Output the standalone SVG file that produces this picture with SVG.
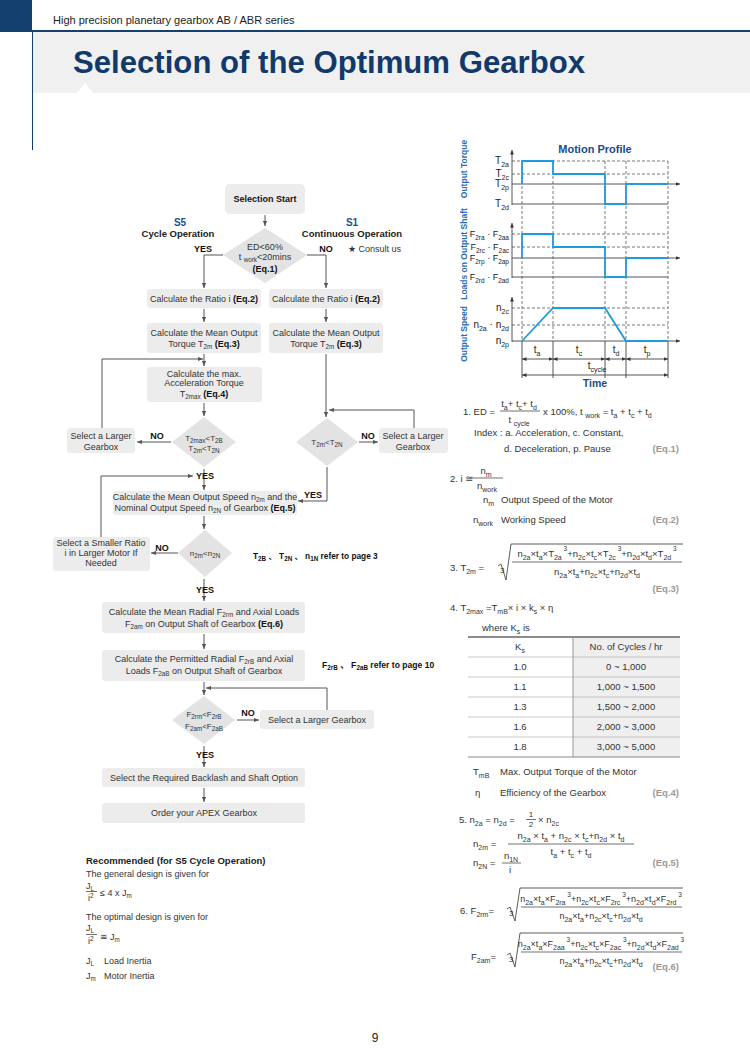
<svg xmlns="http://www.w3.org/2000/svg" width="750" height="1048" viewBox="0 0 750 1048">
<defs>
<style>
text{font-family:"Liberation Sans",Arial,"DejaVu Sans","Noto Sans CJK JP",sans-serif;fill:#333}
.f{font-size:9px}
.f8{font-size:8px}
.ctr{text-anchor:middle}
.b{font-weight:bold;fill:#111}
.bl{fill:#1f4f96}
.box{fill:#ececec}
.dia{fill:#e3e3e3}
.c{stroke:#555;stroke-width:1;fill:none;marker-end:url(#a)}
.s{font-size:6.3px;baseline-shift:-2px}
.p{font-size:6.5px;baseline-shift:6px}
#equations .s,#motion-profile .s{font-size:7px;baseline-shift:-2.5px}
#equations .e9 .p{baseline-shift:5px}
.e{font-size:9.5px}
.e8{font-size:9.5px}
.e9{font-size:9px}
.ix{font-size:8px}
.eq{font-size:9.5px;font-weight:bold;fill:#9a9a9a;text-anchor:end}
.ax{font-size:10px;fill:#222;text-anchor:end}
.axf{font-size:9px;fill:#222;text-anchor:end}
#motion-profile .axf .s{font-size:6.5px}
.dash{stroke:#555;stroke-width:0.8;stroke-dasharray:3 2;fill:none}
.sol{stroke:#444;stroke-width:0.9;fill:none}
.sig{stroke:#1f9be0;stroke-width:1.8;fill:none}
.vl{font-size:8.5px;font-weight:bold;fill:#2a6cb4;text-anchor:middle}
.fr{stroke:#333;stroke-width:0.7}
.rad{stroke:#333;stroke-width:0.8;fill:none}
.tb{fill:#222}
</style>
<marker id="a" viewBox="0 0 6 6" refX="6" refY="3" markerWidth="5" markerHeight="5" orient="auto"><path d="M0,0.5 L6,3 L0,5.5z" fill="#555"/></marker>
<marker id="m" viewBox="0 0 6 6" refX="6" refY="3" markerWidth="5" markerHeight="5" orient="auto-start-reverse"><path d="M0,0.5 L6,3 L0,5.5z" fill="#333"/></marker>
</defs>

<g id="header">
<rect x="0" y="0" width="32" height="32" fill="#14406f"/>
<rect x="32" y="32" width="718" height="61" fill="#f0f0f0"/>
<line x1="32" y1="31" x2="750" y2="31" stroke="#14406f" stroke-width="2"/>
<line x1="32.5" y1="31" x2="32.5" y2="150" stroke="#14406f" stroke-width="1"/>
<polygon points="77,93 85,83 93,93" fill="#fff"/>
<text x="53" y="24" style="font-size:11px;fill:#222">High precision planetary gearbox AB / ABR series</text>
<text x="73" y="73" textLength="512" lengthAdjust="spacingAndGlyphs" style="font-size:31px;font-weight:bold;fill:#12396b">Selection of the Optimum Gearbox</text>
</g>

<g id="connectors">
<path class="c" d="M265,215 V226"/>
<path class="c" d="M223,255 H204 V288"/>
<path class="c" d="M307,255 H326 V288"/>
<path class="c" d="M204,309 V322"/>
<path class="c" d="M326,309 V322"/>
<path class="c" d="M204,354 V366"/>
<path class="c" d="M326,354 V417"/>
<path class="c" d="M102,428 V359 H203"/>
<path class="c" d="M204,403 V416"/>
<path class="c" d="M171,442 H137"/>
<path class="c" d="M359,442 H378"/>
<path class="c" d="M414,428 V410 H329"/>
<path class="c" d="M327,467 V501 H298"/>
<path class="c" d="M101,537 V476 H193"/>
<path class="c" d="M204,469 V490"/>
<path class="c" d="M204,516 V529"/>
<path class="c" d="M178,553 H151"/>
<path class="c" d="M204,579 V601"/>
<path class="c" d="M204,634 V649"/>
<path class="c" d="M204,682 V695"/>
<path class="c" d="M327,710 V688 H206"/>
<path class="c" d="M237,720 H259"/>
<path class="c" d="M204,746 V767"/>
<path class="c" d="M204,788 V802"/>
</g>

<g id="n-start"><rect class="box" x="225" y="184" width="80" height="30" rx="5"/><text class="f ctr b" x="265" y="202">Selection Start</text></g>
<g id="lbl-s5"><text class="ctr b bl" x="180" y="226" style="font-size:10px">S5</text><text class="ctr b" x="178" y="237" style="font-size:9.5px;fill:#222">Cycle Operation</text></g>
<g id="lbl-s1"><text class="ctr b bl" x="352" y="226" style="font-size:10px">S1</text><text class="ctr b" x="352" y="237" style="font-size:9.5px;fill:#222">Continuous Operation</text></g>
<g id="d-ed"><polygon class="dia" points="265,228 307,255 265,283 223,255"/>
<text class="f ctr" x="265" y="250">ED&lt;60%</text>
<text class="f ctr" x="265" y="260">t <tspan class="s">work</tspan>&lt;20mins</text>
<text class="f ctr b" x="265" y="272">(Eq.1)</text></g>
<g id="lbl-ed"><text class="f ctr b" x="203" y="252">YES</text><text class="f ctr b" x="326" y="252">NO</text><text class="f" x="348" y="252">★ Consult us</text></g>

<g id="n-ratio-l"><rect class="box" x="147" y="289" width="114" height="19" rx="3"/><text class="f ctr" x="204" y="302">Calculate the Ratio i <tspan class="b">(Eq.2)</tspan></text></g>
<g id="n-ratio-r"><rect class="box" x="269" y="289" width="114" height="19" rx="3"/><text class="f ctr" x="326" y="302">Calculate the Ratio i <tspan class="b">(Eq.2)</tspan></text></g>
<g id="n-mean-l"><rect class="box" x="147" y="323" width="114" height="30" rx="3"/><text class="f ctr" x="204" y="336">Calculate the Mean Output</text><text class="f ctr" x="204" y="347">Torque T<tspan class="s">2m</tspan> <tspan class="b">(Eq.3)</tspan></text></g>
<g id="n-mean-r"><rect class="box" x="269" y="323" width="114" height="30" rx="3"/><text class="f ctr" x="326" y="336">Calculate the Mean Output</text><text class="f ctr" x="326" y="347">Torque T<tspan class="s">2m</tspan> <tspan class="b">(Eq.3)</tspan></text></g>
<g id="n-accel"><rect class="box" x="147" y="367" width="115" height="35" rx="3"/><text class="f ctr" x="204" y="377">Calculate the max.</text><text class="f ctr" x="204" y="386">Acceleration Torque</text><text class="f ctr" x="204" y="397">T<tspan class="s">2max</tspan> <tspan class="b">(Eq.4)</tspan></text></g>

<g id="d-t2max"><polygon class="dia" points="204,417 236,442 204,467 172,442"/><text class="f8 ctr" x="204" y="441">T<tspan class="s">2max</tspan>&lt;T<tspan class="s">2B</tspan></text><text class="f8 ctr" x="204" y="451">T<tspan class="s">2m</tspan>&lt;T<tspan class="s">2N</tspan></text></g>
<g id="lbl-t2max"><text class="f ctr b" x="157" y="439">NO</text><text class="f ctr b" x="205" y="479">YES</text></g>
<g id="n-larger-l"><rect class="box" x="67" y="428" width="68" height="25" rx="3"/><text class="f ctr" x="101" y="439">Select a Larger</text><text class="f ctr" x="101" y="450">Gearbox</text></g>

<g id="d-t2m"><polygon class="dia" points="327,418 358,442 327,466 296,442"/><text class="f8 ctr" x="327" y="445">T<tspan class="s">2m</tspan>&lt;T<tspan class="s">2N</tspan></text></g>
<g id="lbl-t2m"><text class="f ctr b" x="368" y="439">NO</text><text class="f ctr b" x="313" y="498">YES</text></g>
<g id="n-larger-r"><rect class="box" x="379" y="428" width="69" height="25" rx="3"/><text class="f ctr" x="413" y="439">Select a Larger</text><text class="f ctr" x="413" y="450">Gearbox</text></g>

<g id="n-speed"><rect class="box" x="113" y="491" width="184" height="24" rx="3"/><text class="f ctr" x="205" y="500">Calculate the Mean Output Speed n<tspan class="s">2m</tspan> and the</text><text class="f ctr" x="205" y="511">Nominal Output Speed n<tspan class="s">2N</tspan> of Gearbox <tspan class="b">(Eq.5)</tspan></text></g>

<g id="d-n2m"><polygon class="dia" points="205,530 232,553 205,577 178,553"/><text class="f8 ctr" x="205" y="556">n<tspan class="s">2m</tspan>&lt;n<tspan class="s">2N</tspan></text></g>
<g id="lbl-n2m"><text class="f ctr b" x="162" y="551">NO</text><text class="f ctr b" x="205" y="593">YES</text></g>
<g id="n-smaller"><rect class="box" x="53" y="537" width="97" height="34" rx="3"/><text class="f ctr" x="101" y="546">Select a Smaller Ratio</text><text class="f ctr" x="101" y="556">i in Larger Motor If</text><text class="f ctr" x="101" y="566">Needed</text></g>
<g id="note-page3"><text class="b" x="253" y="559" style="font-size:8.3px">T<tspan class="s">2B</tspan> 、 T<tspan class="s">2N</tspan> 、 n<tspan class="s">1N</tspan> refer to page 3</text></g>

<g id="n-radial"><rect class="box" x="102" y="602" width="203" height="31" rx="3"/><text class="f ctr" x="204" y="615">Calculate the Mean Radial F<tspan class="s">2rm</tspan> and Axial Loads</text><text class="f ctr" x="204" y="627">F<tspan class="s">2am</tspan> on Output Shaft of Gearbox <tspan class="b">(Eq.6)</tspan></text></g>
<g id="n-permitted"><rect class="box" x="102" y="650" width="203" height="31" rx="3"/><text class="f ctr" x="204" y="662">Calculate the Permitted Radial F<tspan class="s">2rB</tspan> and Axial</text><text class="f ctr" x="204" y="674">Loads F<tspan class="s">2aB</tspan> on Output Shaft of Gearbox</text></g>
<g id="note-page10"><text class="b" x="322" y="668" style="font-size:8.6px">F<tspan class="s">2rB</tspan> 、 F<tspan class="s">2aB</tspan> refer to page 10</text></g>

<g id="d-f2rm"><polygon class="dia" points="204,696 235,720 204,744 172,720"/><text class="f8 ctr" x="204" y="717">F<tspan class="s">2rm</tspan>&lt;F<tspan class="s">2rB</tspan></text><text class="f8 ctr" x="204" y="729">F<tspan class="s">2am</tspan>&lt;F<tspan class="s">2aB</tspan></text></g>
<g id="lbl-f2rm"><text class="f ctr b" x="248" y="716">NO</text><text class="f ctr b" x="205" y="758">YES</text></g>
<g id="n-larger-f"><rect class="box" x="260" y="710" width="114" height="19" rx="3"/><text class="f ctr" x="317" y="723">Select a Larger Gearbox</text></g>
<g id="n-backlash"><rect class="box" x="102" y="768" width="203" height="19" rx="3"/><text class="f ctr" x="204" y="781">Select the Required Backlash and Shaft Option</text></g>
<g id="n-order"><rect class="box" x="102" y="803" width="203" height="20" rx="3"/><text class="f ctr" x="204" y="816">Order your APEX Gearbox</text></g>

<g id="recommended">
<text class="b" x="86" y="864" style="font-size:9.5px;fill:#222">Recommended (for S5 Cycle Operation)</text>
<text class="f" x="86" y="877">The general design is given for</text>
<text class="f" x="86" y="889">J<tspan class="s">L</tspan></text>
<line class="fr" x1="86" y1="891.5" x2="97" y2="891.5"/>
<text class="f" x="88" y="901">i<tspan class="p" style="baseline-shift:3px">2</tspan></text>
<text class="f" x="100" y="896">≤ 4 x J<tspan class="s">m</tspan></text>
<text class="f" x="86" y="920">The optimal design is given for</text>
<text class="f" x="86" y="931">J<tspan class="s">L</tspan></text>
<line class="fr" x1="86" y1="934.5" x2="97" y2="934.5"/>
<text class="f" x="88" y="944">i<tspan class="p" style="baseline-shift:3px">2</tspan></text>
<text class="f" x="100" y="940">≅ J<tspan class="s">m</tspan></text>
<text class="f" x="86" y="964">J<tspan class="s">L</tspan></text><text class="f" x="104" y="964">Load Inertia</text>
<text class="f" x="86" y="979">J<tspan class="s">m</tspan></text><text class="f" x="104" y="979">Motor Inertia</text>
</g>

<g id="motion-profile">
<text class="ctr b" x="595" y="153" style="font-size:11px;fill:#1b4b8a">Motion Profile</text>
<text class="vl" transform="translate(467,169) rotate(-90)">Output Torque</text>
<text class="vl" transform="translate(467,254) rotate(-90)">Loads on Output Shaft</text>
<text class="vl" transform="translate(467,334) rotate(-90)">Output Speed</text>
<path class="dash" d="M512,161 H668 M512,174 H668 M512,234 H668 M512,247 H668 M512,308 H668 M512,325 H668"/>
<path class="dash" d="M522,161 V341 M553,161 V341 M605,161 V341 M626,161 V341 M668,161 V341"/>
<path class="sol" d="M522,341 V378 M553,341 V378 M605,341 V378 M626,341 V378 M668,341 V378"/>
<path class="sol" d="M512,204 H668 M512,277 H668"/>
<path class="sol" d="M512,205 V150" marker-end="url(#m)"/>
<path class="sol" d="M512,278 V223" marker-end="url(#m)"/>
<path class="sol" d="M512,342 V297" marker-end="url(#m)"/>
<path class="sol" d="M512,184 H680" marker-end="url(#m)"/>
<path class="sol" d="M512,258 H680" marker-end="url(#m)"/>
<path class="sol" d="M512,341 H680" marker-end="url(#m)"/>
<path class="sig" d="M522,184 V161 H553 V174 H605 V204 H626 V184 H668"/>
<path class="sig" d="M522,258 V234 H553 V247 H605 V277 H626 V258 H668"/>
<path class="sig" d="M522,341 L553,308 H605 L626,341 H668"/>
<text class="ax" x="509" y="164">T<tspan class="s">2a</tspan></text>
<text class="ax" x="509" y="177">T<tspan class="s">2c</tspan></text>
<text class="ax" x="509" y="187">T<tspan class="s">2p</tspan></text>
<text class="ax" x="509" y="207">T<tspan class="s">2d</tspan></text>
<text class="axf" x="509" y="237">F<tspan class="s">2ra</tspan> · F<tspan class="s">2aa</tspan></text>
<text class="axf" x="509" y="250">F<tspan class="s">2rc</tspan> · F<tspan class="s">2ac</tspan></text>
<text class="axf" x="509" y="261">F<tspan class="s">2rp</tspan> · F<tspan class="s">2ap</tspan></text>
<text class="axf" x="509" y="280">F<tspan class="s">2rd</tspan> · F<tspan class="s">2ad</tspan></text>
<text class="ax" x="509" y="311">n<tspan class="s">2c</tspan></text>
<text class="ax" x="509" y="328">n<tspan class="s">2a</tspan> · n<tspan class="s">2d</tspan></text>
<text class="ax" x="509" y="344">n<tspan class="s">2p</tspan></text>
<path class="sol" d="M522,359 H553" marker-start="url(#m)" marker-end="url(#m)"/>
<path class="sol" d="M553,359 H605" marker-start="url(#m)" marker-end="url(#m)"/>
<path class="sol" d="M605,359 H626" marker-start="url(#m)" marker-end="url(#m)"/>
<path class="sol" d="M626,359 H668" marker-start="url(#m)" marker-end="url(#m)"/>
<path class="sol" d="M522,375 H668" marker-start="url(#m)" marker-end="url(#m)"/>
<text class="ax tb" x="537" y="353" style="text-anchor:middle">t<tspan class="s">a</tspan></text>
<text class="ax tb" x="579" y="353" style="text-anchor:middle">t<tspan class="s">c</tspan></text>
<text class="ax tb" x="616" y="353" style="text-anchor:middle">t<tspan class="s">d</tspan></text>
<text class="ax tb" x="647" y="353" style="text-anchor:middle">t<tspan class="s">p</tspan></text>
<text class="ax tb" x="597" y="369" style="text-anchor:middle">t<tspan class="s">cycle</tspan></text>
<text class="ctr b" x="595" y="387" style="font-size:10.5px;fill:#1b4b8a">Time</text>
</g>

<g id="equations">
<text class="e" x="463" y="415">1. ED =</text>
<text class="e ctr" x="519" y="407">t<tspan class="s">a</tspan>+ t<tspan class="s">c</tspan>+ t<tspan class="s">d</tspan></text>
<line class="fr" x1="500" y1="411" x2="540" y2="411"/>
<text class="e ctr" x="519" y="423">t <tspan class="s">cycle</tspan></text>
<text class="e" x="543" y="415">x 100%, t <tspan class="s">work</tspan> = t<tspan class="s">a</tspan> + t<tspan class="s">c</tspan> + t<tspan class="s">d</tspan></text>
<text class="e" x="474" y="436">Index : a. Acceleration,  c. Constant,</text>
<text class="e" x="504" y="452">d. Deceleration,  p. Pause</text>
<text class="eq" x="679" y="452">(Eq.1)</text>

<text class="e" x="450" y="482">2. i ≅</text>
<text class="e ctr" x="486" y="474">n<tspan class="s">m</tspan></text>
<line class="fr" x1="472" y1="478" x2="503" y2="478"/>
<text class="e ctr" x="487" y="489">n<tspan class="s">work</tspan></text>
<text class="e" x="483" y="503">n<tspan class="s">m</tspan></text><text class="e" x="501" y="503">Output Speed of the Motor</text>
<text class="e" x="473" y="523">n<tspan class="s">work</tspan></text><text class="e" x="501" y="523">Working Speed</text>
<text class="eq" x="679" y="523">(Eq.2)</text>

<text class="e" x="450" y="571">3. T<tspan class="s">2m</tspan> =</text>
<text class="ix" x="500" y="573">3</text>
<path class="rad" d="M498,566 L501,564 L506,580 L511,544 H683"/>
<text class="e8 ctr" x="597" y="557">n<tspan class="s">2a</tspan>×t<tspan class="s">a</tspan>×T<tspan class="s">2a</tspan><tspan class="p"> 3</tspan>+n<tspan class="s">2c</tspan>×t<tspan class="s">c</tspan>×T<tspan class="s">2c</tspan><tspan class="p"> 3</tspan>+n<tspan class="s">2d</tspan>×t<tspan class="s">d</tspan>×T<tspan class="s">2d</tspan><tspan class="p"> 3</tspan></text>
<line class="fr" x1="512" y1="562" x2="682" y2="562"/>
<text class="e8 ctr" x="597" y="575">n<tspan class="s">2a</tspan>×t<tspan class="s">a</tspan>+n<tspan class="s">2c</tspan>×t<tspan class="s">c</tspan>+n<tspan class="s">2d</tspan>×t<tspan class="s">d</tspan></text>
<text class="eq" x="679" y="592">(Eq.3)</text>

<text class="e" x="450" y="611">4. T<tspan class="s">2max</tspan> =T<tspan class="s">mB</tspan>× i × k<tspan class="s">s</tspan> × η</text>
<text class="e" x="482" y="631">where K<tspan class="s">s</tspan> is</text>

<rect x="573" y="637" width="107" height="120" fill="#efefef"/>
<path d="M468,657 H680 M468,677 H680 M468,697 H680 M468,717 H680 M468,737 H680" stroke="#bbb" stroke-width="0.8"/>
<line x1="468" y1="637" x2="680" y2="637" stroke="#666" stroke-width="1.5"/>
<line x1="468" y1="757" x2="680" y2="757" stroke="#888" stroke-width="1"/>
<line x1="573" y1="637" x2="573" y2="757" stroke="#999" stroke-width="1"/>
<text class="e ctr" x="520" y="650">K<tspan class="s">s</tspan></text><text class="e ctr" x="626" y="650">No. of Cycles / hr</text>
<text class="e ctr" x="520" y="670">1.0</text><text class="e ctr" x="626" y="670">0 ~ 1,000</text>
<text class="e ctr" x="520" y="690">1.1</text><text class="e ctr" x="626" y="690">1,000 ~ 1,500</text>
<text class="e ctr" x="520" y="710">1.3</text><text class="e ctr" x="626" y="710">1,500 ~ 2,000</text>
<text class="e ctr" x="520" y="730">1.6</text><text class="e ctr" x="626" y="730">2,000 ~ 3,000</text>
<text class="e ctr" x="520" y="750">1.8</text><text class="e ctr" x="626" y="750">3,000 ~ 5,000</text>

<text class="e" x="473" y="775">T<tspan class="s">mB</tspan></text><text class="e" x="500" y="775">Max. Output Torque of the Motor</text>
<text class="e" x="475" y="796">η</text><text class="e" x="500" y="796">Efficiency of the Gearbox</text>
<text class="eq" x="679" y="796">(Eq.4)</text>

<text class="e" x="459" y="823">5. n<tspan class="s">2a</tspan> = n<tspan class="s">2d</tspan> =</text>
<text class="ix ctr" x="531" y="817">1</text>
<line class="fr" x1="526" y1="819.5" x2="536" y2="819.5"/>
<text class="ix ctr" x="531" y="827">2</text>
<text class="e" x="538" y="823">× n<tspan class="s">2c</tspan></text>
<text class="e" x="473" y="847">n<tspan class="s">2m</tspan> =</text>
<text class="e8 ctr" x="571" y="839">n<tspan class="s">2a</tspan> × t<tspan class="s">a</tspan> + n<tspan class="s">2c</tspan> × t<tspan class="s">c</tspan>+n<tspan class="s">2d</tspan> × t<tspan class="s">d</tspan></text>
<line class="fr" x1="508" y1="844" x2="634" y2="844"/>
<text class="e8 ctr" x="571" y="855">t<tspan class="s">a</tspan> + t<tspan class="s">c</tspan> + t<tspan class="s">d</tspan></text>
<text class="e" x="473" y="866">n<tspan class="s">2N</tspan> =</text>
<text class="e ctr" x="511" y="859">n<tspan class="s">1N</tspan></text>
<line class="fr" x1="502" y1="863" x2="521" y2="863"/>
<text class="e ctr" x="510" y="873">i</text>
<text class="eq" x="679" y="866">(Eq.5)</text>

<text class="e" x="460" y="914">6. F<tspan class="s">2rm</tspan>=</text>
<text class="ix" x="509" y="916">3</text>
<path class="rad" d="M507,909 L510,907 L515,921 L520,888 H683"/>
<text class="e9 ctr" x="601" y="902">n<tspan class="s">2a</tspan>×t<tspan class="s">a</tspan>×F<tspan class="s">2ra</tspan><tspan class="p"> 3</tspan>+n<tspan class="s">2c</tspan>×t<tspan class="s">c</tspan>×F<tspan class="s">2rc</tspan><tspan class="p"> 3</tspan>+n<tspan class="s">2d</tspan>×t<tspan class="s">d</tspan>×F<tspan class="s">2rd</tspan><tspan class="p"> 3</tspan></text>
<line class="fr" x1="521" y1="907" x2="682" y2="907"/>
<text class="e9 ctr" x="601" y="919">n<tspan class="s">2a</tspan>×t<tspan class="s">a</tspan>+n<tspan class="s">2c</tspan>×t<tspan class="s">c</tspan>+n<tspan class="s">2d</tspan>×t<tspan class="s">d</tspan></text>

<text class="e" x="471" y="960">F<tspan class="s">2am</tspan>=</text>
<text class="ix" x="509" y="962">3</text>
<path class="rad" d="M507,955 L510,953 L515,967 L520,933 H683"/>
<text class="e9 ctr" x="601" y="947">n<tspan class="s">2a</tspan>×t<tspan class="s">a</tspan>×F<tspan class="s">2aa</tspan><tspan class="p"> 3</tspan>+n<tspan class="s">2c</tspan>×t<tspan class="s">c</tspan>×F<tspan class="s">2ac</tspan><tspan class="p"> 3</tspan>+n<tspan class="s">2d</tspan>×t<tspan class="s">d</tspan>×F<tspan class="s">2ad</tspan><tspan class="p"> 3</tspan></text>
<line class="fr" x1="521" y1="952" x2="682" y2="952"/>
<text class="e9 ctr" x="601" y="964">n<tspan class="s">2a</tspan>×t<tspan class="s">a</tspan>+n<tspan class="s">2c</tspan>×t<tspan class="s">c</tspan>+n<tspan class="s">2d</tspan>×t<tspan class="s">d</tspan></text>
<text class="eq" x="679" y="970">(Eq.6)</text>
</g>

<g id="page-number"><text class="ctr" x="375" y="1042" style="font-size:12px;fill:#222">9</text></g>
</svg>
